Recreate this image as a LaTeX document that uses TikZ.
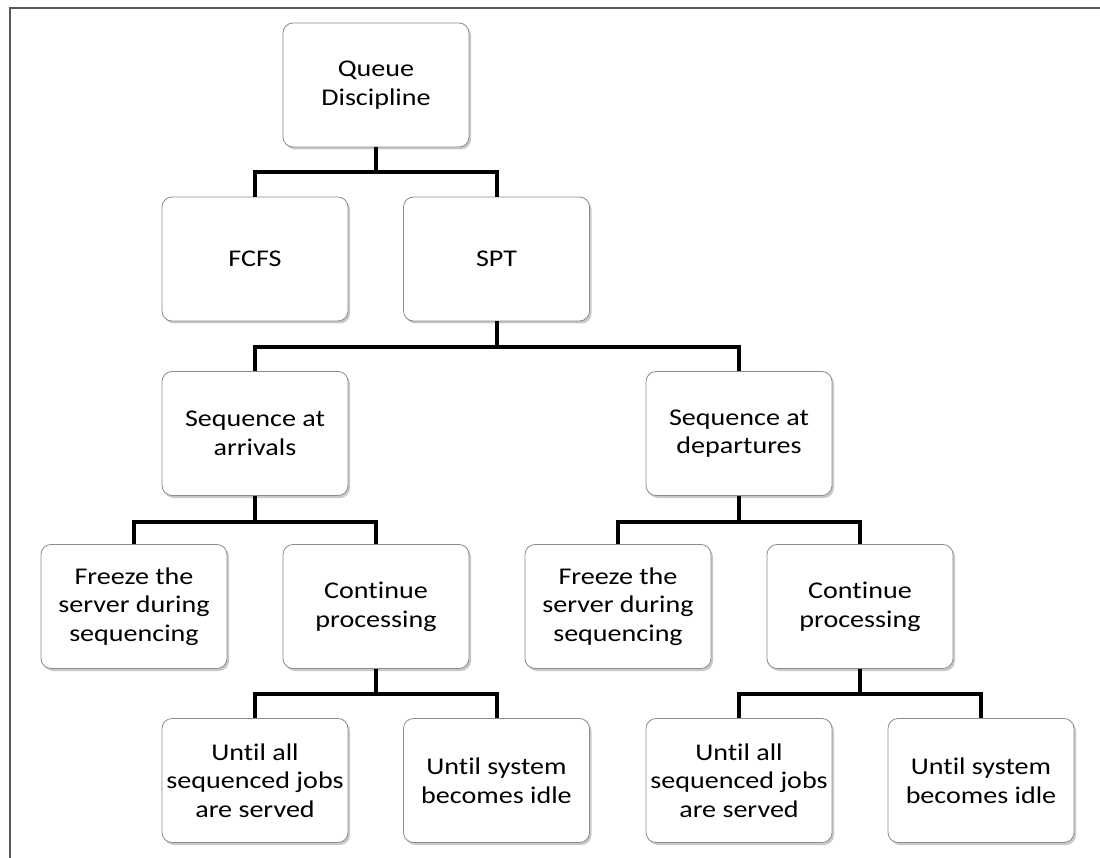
\documentclass[tikz,border=0pt]{standalone}
\usepackage{fontspec}
\setmainfont{Carlito}[Ligatures=NoCommon, FakeStretch=1.17]
\usetikzlibrary{shadows}
\begin{document}
\begin{tikzpicture}[x=1pt,y=-1pt,
  box/.style={draw=black!45, line width=0.8pt, fill=white, rounded corners=10pt,
    minimum width=186pt, minimum height=124pt, inner sep=0pt, align=center,
    font=\fontsize{24}{28.7}\selectfont, text=black,
    drop shadow={shadow xshift=2pt, shadow yshift=-2.5pt, opacity=0.35, fill=black!60}},
  conn/.style={draw=black, line width=4pt, line join=miter}]
\useasboundingbox (0,0) rectangle (1100,858);
\fill[white] (0,0) rectangle (1100,858);
\coordinate (fbl) at (10,858);
\coordinate (ftl) at (10,8);
\coordinate (ftr) at (1100,8);
\draw[black!65, line width=1.2pt] (fbl) -- (ftl) -- (ftr);

\node[box] (qd)   at (376,85)      {Queue\\Discipline};
\node[box] (fcfs) at (255,259)     {FCFS};
\node[box] (spt)  at (496.5,259)   {SPT};
\node[box] (arr)  at (255,433.5)   {Sequence at\\arrivals};
\node[box] (dep)  at (739,433.5)   {Sequence at\\departures};
\node[box] (fl)   at (134,606.5)   {Freeze the\\server during\\sequencing};
\node[box] (cl)   at (376,606.5)   {Continue\\processing};
\node[box] (fr)   at (618,606.5)   {Freeze the\\server during\\sequencing};
\node[box] (cr)   at (860,606.5)   {Continue\\processing};
\node[box] (ual)  at (255,780.5)   {Until all\\sequenced jobs\\are served};
\node[box] (usl)  at (496.5,780.5) {Until system\\becomes idle};
\node[box] (uar)  at (739,780.5)   {Until all\\sequenced jobs\\are served};
\node[box] (usr)  at (981,780.5)   {Until system\\becomes idle};

\draw[conn] (qd.south) -- ++(0,25) -| (fcfs.north);
\draw[conn] (qd.south) -- ++(0,25) -| (spt.north);
\draw[conn] (spt.south) -- ++(0,25.5) -| (arr.north);
\draw[conn] (spt.south) -- ++(0,25.5) -| (dep.north);
\draw[conn] (arr.south) -- ++(0,26) -| (fl.north);
\draw[conn] (arr.south) -- ++(0,26) -| (cl.north);
\draw[conn] (dep.south) -- ++(0,26) -| (fr.north);
\draw[conn] (dep.south) -- ++(0,26) -| (cr.north);
\draw[conn] (cl.south) -- ++(0,25) -| (ual.north);
\draw[conn] (cl.south) -- ++(0,25) -| (usl.north);
\draw[conn] (cr.south) -- ++(0,25) -| (uar.north);
\draw[conn] (cr.south) -- ++(0,25) -| (usr.north);
\end{tikzpicture}
\end{document}
